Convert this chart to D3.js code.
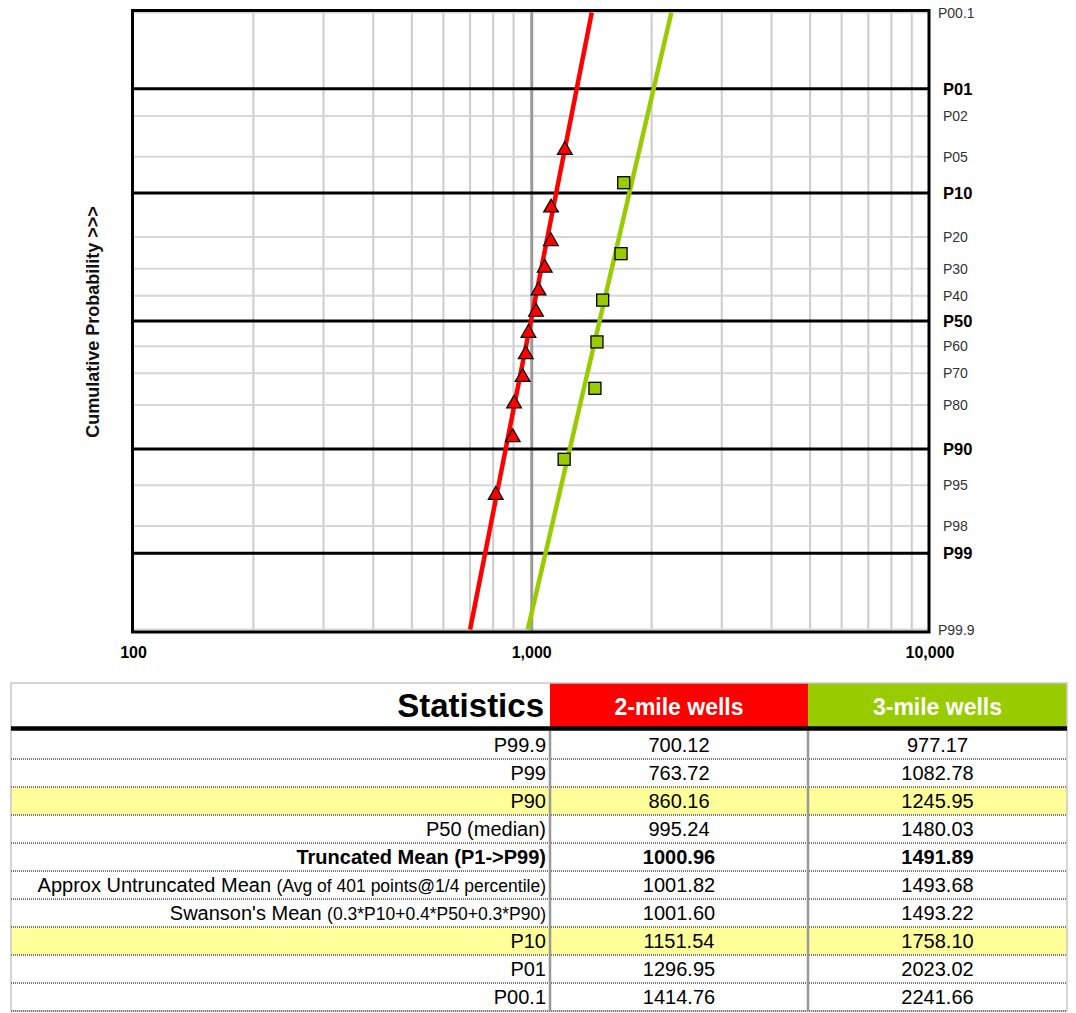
<!DOCTYPE html>
<html><head><meta charset="utf-8">
<script src="https://cdn.jsdelivr.net/npm/d3@7"></script>
<style>
body{margin:0;background:#fff}
svg{display:block}
text{font-family:"Liberation Sans",Arial,Helvetica,sans-serif}
</style>
</head><body>
<svg id="chart" width="1076" height="1013"></svg>
<script>
// ---------- data ----------
const twoMilePct  = [4.2, 12.5, 20.8, 29.2, 37.5, 45.8, 54.2, 62.5, 70.8, 79.2, 87.5, 95.8];
const twoMileVals = [1211, 1118, 1117, 1078, 1040, 1025, 981, 966, 949, 903, 896, 812];
const threeMilePct  = [8.3, 25, 41.7, 58.3, 75, 91.7];
const threeMileVals = [1702, 1676, 1507, 1458, 1441, 1206];

const fitPct       = [99.9, 99, 90, 50, 10, 1, 0.1];
const twoMileFit   = [700.12, 763.72, 860.16, 995.24, 1151.54, 1296.95, 1414.76];
const threeMileFit = [977.17, 1082.78, 1245.95, 1480.03, 1758.10, 2023.02, 2241.66];

const majorPct    = [1, 10, 50, 90, 99];
const majorLabels = ["P01", "P10", "P50", "P90", "P99"];
const minorPct    = [2, 5, 20, 30, 40, 60, 70, 80, 95, 98];
const minorLabels = ["P02", "P05", "P20", "P30", "P40", "P60", "P70", "P80", "P95", "P98"];
const endPct      = [0.1, 99.9];
const endLabels   = ["P00.1", "P99.9"];

const xTickVals   = [100, 1000, 10000];
const xTickLabels = ["100", "1,000", "10,000"];
const xGridVals   = [200, 300, 400, 500, 600, 700, 800, 900, 2000, 3000, 4000, 5000, 6000, 7000, 8000, 9000];

const seriesNames  = ["2-mile wells", "3-mile wells"];
const seriesColors = ["#ff0000", "#99cc00"];

const statLabels = ["P99.9", "P99", "P90", "P50 (median)", "Truncated Mean (P1->P99)",
  "Approx Untruncated Mean ", "Swanson's Mean ", "P10", "P01", "P00.1"];
const statNotes  = ["", "", "", "", "", "(Avg of 401 points@1/4 percentile)",
  "(0.3*P10+0.4*P50+0.3*P90)", "", "", ""];
const twoMileStats   = ["700.12", "763.72", "860.16", "995.24", "1000.96", "1001.82", "1001.60", "1151.54", "1296.95", "1414.76"];
const threeMileStats = ["977.17", "1082.78", "1245.95", "1480.03", "1491.89", "1493.68", "1493.22", "1758.10", "2023.02", "2241.66"];
const boldRows      = [4];
const highlightRows = [2, 7];

// ---------- helpers ----------
function probit(p) {
  const a = [-3.969683028665376e+01, 2.209460984245205e+02, -2.759285104469687e+02, 1.383577518672690e+02, -3.066479806614716e+01, 2.506628277459239e+00];
  const b = [-5.447609879822406e+01, 1.615858368580409e+02, -1.556989798598866e+02, 6.680131188771972e+01, -1.328068155288572e+01];
  const c = [-7.784894002430293e-03, -3.223964580411365e-01, -2.400758277161838e+00, -2.549732539343734e+00, 4.374664141464968e+00, 2.938163982698783e+00];
  const d = [7.784695709041462e-03, 3.224671290700398e-01, 2.445134137142996e+00, 3.754408661907416e+00];
  const pl = 0.02425, ph = 1 - pl;
  let q, r;
  if (p < pl) { q = Math.sqrt(-2 * Math.log(p));
    return (((((c[0]*q+c[1])*q+c[2])*q+c[3])*q+c[4])*q+c[5]) / ((((d[0]*q+d[1])*q+d[2])*q+d[3])*q+1); }
  if (p <= ph) { q = p - 0.5; r = q * q;
    return (((((a[0]*r+a[1])*r+a[2])*r+a[3])*r+a[4])*r+a[5])*q / (((((b[0]*r+b[1])*r+b[2])*r+b[3])*r+b[4])*r+1); }
  q = Math.sqrt(-2 * Math.log(1 - p));
  return -(((((c[0]*q+c[1])*q+c[2])*q+c[3])*q+c[4])*q+c[5]) / ((((d[0]*q+d[1])*q+d[2])*q+d[3])*q+1);
}
const zOf = pct => probit(1 - pct / 100);

// ---------- scales ----------
const svg = d3.select("#chart");
const plot = {left: 132.5, right: 929, top: 10.5, bottom: 632};
const x = d3.scaleLog().domain([100, 10000]).range([133.5, 930]);
const zMax = zOf(0.1);
const yz = d3.scaleLinear().domain([-zMax, zMax]).range([629.5, 12.5]);
const y = pct => yz(zOf(pct));

const g = svg.append("g");

// vertical grid
g.selectAll("line.vg").data(xGridVals).join("line")
  .attr("x1", d => x(d)).attr("x2", d => x(d))
  .attr("y1", plot.top).attr("y2", plot.bottom)
  .attr("stroke", "#cccccc").attr("stroke-width", 2);
// minor horizontal grid
g.selectAll("line.hm").data(minorPct.concat(endPct)).join("line")
  .attr("x1", plot.left).attr("x2", plot.right)
  .attr("y1", d => y(d)).attr("y2", d => y(d))
  .attr("stroke", "#d6d6d6").attr("stroke-width", 2);
// 1,000 line
g.append("line").attr("x1", x(1000)).attr("x2", x(1000))
  .attr("y1", plot.top).attr("y2", plot.bottom)
  .attr("stroke", "#9a9a9a").attr("stroke-width", 3);
// major horizontal
g.selectAll("line.hM").data(majorPct).join("line")
  .attr("x1", plot.left).attr("x2", plot.right)
  .attr("y1", d => y(d)).attr("y2", d => y(d))
  .attr("stroke", "#000").attr("stroke-width", 3);
// frame
g.append("rect").attr("x", plot.left).attr("y", plot.top)
  .attr("width", plot.right - plot.left).attr("height", plot.bottom - plot.top)
  .attr("fill", "none").attr("stroke", "#000").attr("stroke-width", 3);

// fit lines
const line = d3.line().x(d => x(d[1])).y(d => y(d[0]));
[twoMileFit, threeMileFit].forEach((vals, i) => {
  g.append("path").datum(fitPct.map((p, j) => [p, vals[j]]))
    .attr("d", line).attr("fill", "none")
    .attr("stroke", seriesColors[i]).attr("stroke-width", 4.5);
});

// markers
g.selectAll("path.tri").data(twoMilePct.map((p, i) => [p, twoMileVals[i]])).join("path")
  .attr("d", d3.symbol(d3.symbolTriangle, 95)())
  .attr("transform", d => `translate(${x(d[1])},${y(d[0]) + 1.5})`)
  .attr("fill", "#ff0000").attr("stroke", "#000").attr("stroke-width", 1.2);
g.selectAll("rect.sq").data(threeMilePct.map((p, i) => [p, threeMileVals[i]])).join("rect")
  .attr("x", d => x(d[1]) - 6).attr("y", d => y(d[0]) - 6)
  .attr("width", 12).attr("height", 12)
  .attr("fill", "#99cc00").attr("stroke", "#000").attr("stroke-width", 1.3);

// right labels
g.selectAll("text.maj").data(majorPct).join("text")
  .attr("x", 943).attr("y", d => y(d)).attr("dy", "0.36em")
  .attr("font-size", 16.5).attr("font-weight", "bold").attr("fill", "#000")
  .text((d, i) => majorLabels[i]);
g.selectAll("text.min").data(minorPct).join("text")
  .attr("x", 943).attr("y", d => y(d)).attr("dy", "0.36em")
  .attr("font-size", 14).attr("fill", "#333")
  .text((d, i) => minorLabels[i]);
g.selectAll("text.end").data(endPct).join("text")
  .attr("x", 938).attr("y", d => y(d)).attr("dy", "0.36em")
  .attr("font-size", 14).attr("fill", "#333")
  .text((d, i) => endLabels[i]);

// x tick labels
g.selectAll("text.xt").data(xTickVals).join("text")
  .attr("x", d => x(d)).attr("y", 658)
  .attr("text-anchor", "middle").attr("font-size", 16).attr("font-weight", "bold")
  .text((d, i) => xTickLabels[i]);

// y title
g.append("text").attr("transform", "translate(99,322) rotate(-90)")
  .attr("text-anchor", "middle").attr("font-size", 18).attr("font-weight", "bold")
  .attr("fill", "#111")
  .text("Cumulative Probability >>>");

// ---------- table ----------
const T = {left: 11, c1: 550, c2: 808, right: 1067, top: 683, head: 46, rowTop: 731, rowH: 28};
const tb = svg.append("g");
const nRows = statLabels.length;
const tBottom = T.rowTop + nRows * T.rowH;

// highlight rows
tb.selectAll("rect.hl").data(highlightRows).join("rect")
  .attr("x", T.left).attr("y", d => T.rowTop + d * T.rowH)
  .attr("width", T.right - T.left).attr("height", T.rowH)
  .attr("fill", "#ffff99");
// header cells
const headX = [T.c1, T.c2], headW = [T.c2 - T.c1, T.right - T.c2];
seriesNames.forEach((n, i) => {
  tb.append("rect").attr("x", headX[i]).attr("y", T.top)
    .attr("width", headW[i]).attr("height", T.head).attr("fill", seriesColors[i]);
  tb.append("text").attr("x", headX[i] + headW[i] / 2).attr("y", 715)
    .attr("text-anchor", "middle").attr("font-size", 23).attr("font-weight", "bold")
    .attr("fill", "#fff").text(n);
});
tb.append("text").attr("x", 544).attr("y", 717).attr("text-anchor", "end")
  .attr("font-size", 33).attr("font-weight", "bold").text("Statistics");

// outer light border
tb.append("rect").attr("x", T.left).attr("y", T.top)
  .attr("width", T.right - T.left).attr("height", tBottom - T.top)
  .attr("fill", "none").attr("stroke", "#c8c8c8").attr("stroke-width", 1.5);

// row separators (dotted)
tb.selectAll("line.sep").data(d3.range(1, nRows + 1)).join("line")
  .attr("x1", T.left).attr("x2", T.right)
  .attr("y1", d => T.rowTop + d * T.rowH).attr("y2", d => T.rowTop + d * T.rowH)
  .attr("stroke", "#7a7a7a").attr("stroke-width", 2).attr("stroke-dasharray", "1 1");
// column lines
[T.c1, T.c2].forEach(cx => {
  tb.append("line").attr("x1", cx).attr("x2", cx).attr("y1", T.rowTop).attr("y2", tBottom)
    .attr("stroke", "#999").attr("stroke-width", 2.5);
});
// thick header rule
tb.append("line").attr("x1", T.left).attr("x2", T.right).attr("y1", 728.5).attr("y2", 728.5)
  .attr("stroke", "#000").attr("stroke-width", 4.5);

// row text
statLabels.forEach((lab, i) => {
  const yb = T.rowTop + i * T.rowH + 21;
  const bold = boldRows.includes(i) ? "bold" : "normal";
  const t = tb.append("text").attr("x", 546).attr("y", yb).attr("text-anchor", "end")
    .attr("font-size", 20).attr("font-weight", bold);
  t.append("tspan").text(lab);
  if (statNotes[i]) t.append("tspan").attr("font-size", 17.5).text(statNotes[i]);
  tb.append("text").attr("x", (T.c1 + T.c2) / 2).attr("y", yb).attr("text-anchor", "middle")
    .attr("font-size", 20).attr("font-weight", bold).text(twoMileStats[i]);
  tb.append("text").attr("x", (T.c2 + T.right) / 2).attr("y", yb).attr("text-anchor", "middle")
    .attr("font-size", 20).attr("font-weight", bold).text(threeMileStats[i]);
});
</script>
</body></html>
